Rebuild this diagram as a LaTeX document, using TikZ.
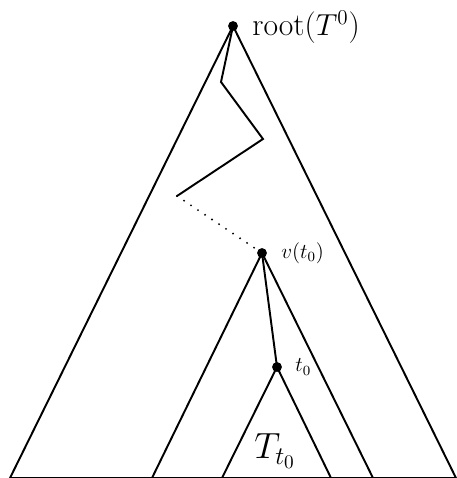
\documentclass[tikz,border=0pt]{standalone}
\tikzset{
  vtx/.style={circle,fill,inner sep=0pt,minimum size=5.6pt},
  trunk/.style={line width=1.1pt,line join=miter}
}
\begin{document}
\begin{tikzpicture}[line cap=round,line join=round]
  \useasboundingbox (0,0) rectangle (9.12,9.56);
  \node[vtx] (root) at (4.66,9.04) {};
  \node[vtx] (v) at (5.24,4.50) {};
  \node[vtx] (t) at (5.54,2.22) {};
  \coordinate (bl) at (0.20,0);
  \coordinate (br) at (9.12,0);
  \coordinate (ml) at (3.04,0);
  \coordinate (mr) at (7.46,0);
  \coordinate (sl) at (4.44,0);
  \coordinate (sr) at (6.62,0);
  \coordinate (p1) at (4.42,7.92);
  \coordinate (p2) at (5.26,6.78);
  \coordinate (p3) at (3.54,5.64);
  % the three trees
  \draw[trunk] (root.center) -- (bl) -- (br) -- cycle;
  \draw[trunk] (v.center) -- (ml) -- (mr) -- cycle;
  \draw[trunk] (t.center) -- (sl) -- (sr) -- cycle;
  % path from the root down to v(t_0)
  \draw[trunk] (root.center) -- (p1) -- (p2) -- (p3);
  \draw[line width=1.2pt,dash pattern=on 0pt off 4.8pt] (p3) -- (v.center);
  \draw[trunk] (v.center) -- (t.center);
  \node[anchor=west,font=\fontsize{18}{20}\selectfont,inner sep=0pt] at (5.04,9.02) {root($T^0$)};
  \node[anchor=west,font=\large,inner sep=0pt] at (5.62,4.50) {$v(t_0)$};
  \node[anchor=west,font=\large,inner sep=0pt] at (5.90,2.22) {$t_0$};
  \node[font=\fontsize{21}{24}\selectfont] (Tlab) at (5.50,0.54) {$T_{t_0}$};
\end{tikzpicture}
\end{document}
